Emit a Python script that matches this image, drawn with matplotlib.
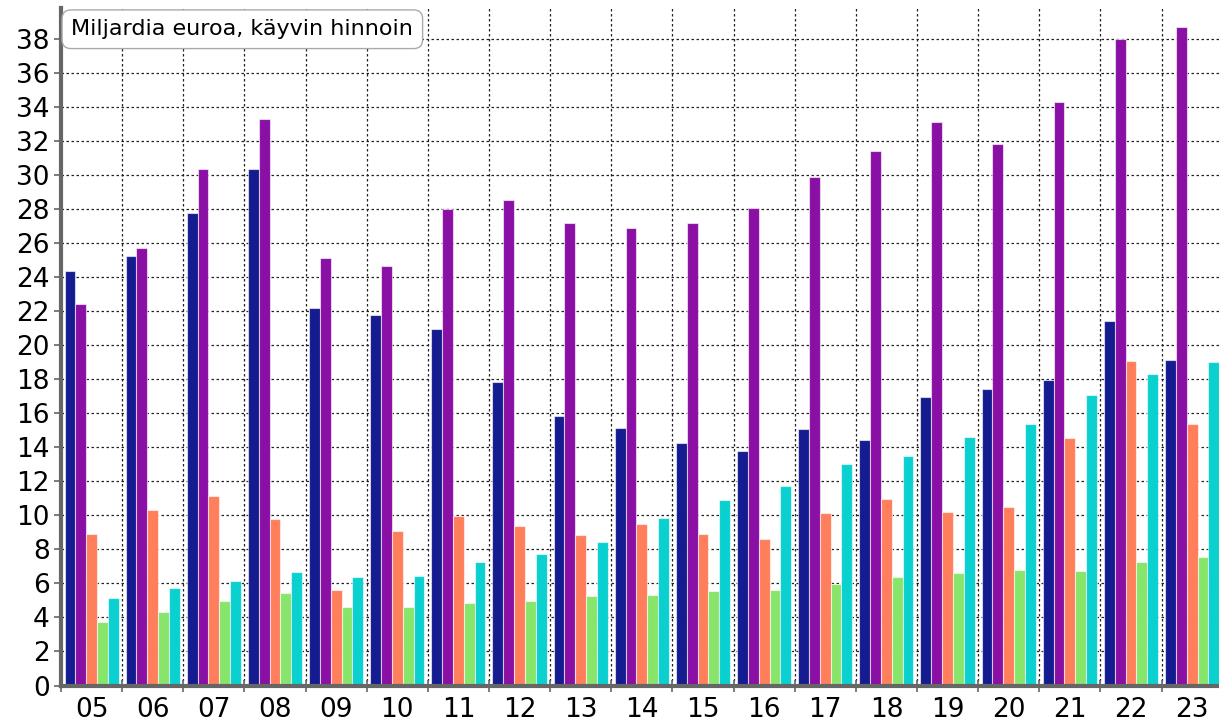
import numpy as np
import matplotlib
matplotlib.use("Agg")
import matplotlib.pyplot as plt

# vuodet 2005-2023, miljardia euroa
years = ["05", "06", "07", "08", "09", "10", "11", "12", "13", "14",
         "15", "16", "17", "18", "19", "20", "21", "22", "23"]

s_blue = [24.4, 25.25, 27.8, 30.4, 22.2, 21.8, 20.95, 17.85, 15.85, 15.13,
          14.26, 13.78, 15.07, 14.44, 16.97, 17.46, 17.97, 21.42, 19.15]
s_purple = [22.44, 25.75, 30.4, 33.3, 25.13, 24.7, 28.0, 28.58, 27.22, 26.89,
            27.19, 28.1, 29.93, 31.46, 33.16, 31.83, 34.32, 38.05, 38.74]
s_salmon = [8.91, 10.32, 11.16, 9.79, 5.6, 9.09, 9.99, 9.38, 8.85, 9.5,
            8.89, 8.62, 10.17, 10.97, 10.19, 10.48, 14.54, 19.07, 15.38]
s_green = [3.75, 4.31, 4.95, 5.44, 4.62, 4.6, 4.85, 4.99, 5.26, 5.3,
           5.54, 5.62, 5.99, 6.38, 6.62, 6.78, 6.75, 7.28, 7.56]
s_cyan = [5.13, 5.72, 6.16, 6.66, 6.36, 6.44, 7.26, 7.74, 8.44, 9.83,
          10.89, 11.75, 13.01, 13.48, 14.6, 15.36, 17.09, 18.31, 19.03]

series = [s_blue, s_purple, s_salmon, s_green, s_cyan]
colors = ["#141c90", "#8a0fa5", "#ff7f5c", "#88e56b", "#0ad0d0"]

fig = plt.figure(figsize=(12.19, 7.21), dpi=100)
ax = fig.add_axes([61 / 1219, 1 - 685.5 / 721, 1 - 61 / 1219, (685.5 - 8) / 721])

x = np.arange(len(years))
bw = 0.177
offsets = (np.arange(5) - 2) * bw
for vals, col, off in zip(series, colors, offsets):
    ax.bar(x + 0.5 + off, vals, width=bw, color=col,
           edgecolor=(1, 1, 1, 0.6), linewidth=0.8, zorder=3)

ax.set_xlim(0, 18.94)
ax.set_ylim(0, 39.85)

ax.set_yticks(np.arange(0, 39, 2))
ax.set_xticks(np.arange(0, 19))
ax.set_xticklabels([])
ax.set_xticks(x + 0.5, minor=True)
ax.set_xticklabels(years, minor=True)

ax.tick_params(axis="y", which="major", length=5, width=1.2, color="#666666",
               labelsize=19, pad=3)
ax.tick_params(axis="x", which="major", direction="inout", length=8, width=1.2,
               color="#666666")
ax.tick_params(axis="x", which="minor", length=0, labelsize=19, pad=8)

ax.grid(True, which="major", color="#222222", linestyle=(0, (2, 2)),
        linewidth=0.9, zorder=0)
ax.set_axisbelow(True)

for side in ["top", "right"]:
    ax.spines[side].set_visible(False)
for side in ["left", "bottom"]:
    ax.spines[side].set_color("#666666")
    ax.spines[side].set_linewidth(3)
    ax.spines[side].set_zorder(4)

ax.text(0.17, 38.6, "Miljardia euroa, käyvin hinnoin", fontsize=16,
        ha="left", va="center", zorder=5,
        bbox=dict(boxstyle="round,pad=0.42,rounding_size=0.4",
                  fc="white", ec="#aaaaaa", lw=1))

fig.savefig("out.png", dpi=100)
